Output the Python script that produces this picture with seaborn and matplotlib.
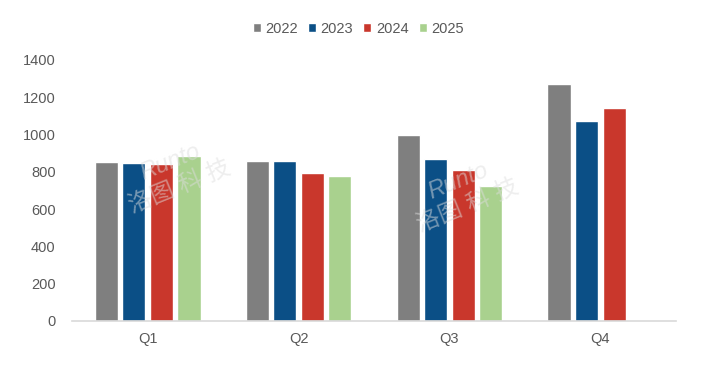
import numpy as np
import pandas as pd
import matplotlib
matplotlib.use("Agg")
import matplotlib.pyplot as plt
import seaborn as sns

quarters = ["Q1", "Q2", "Q3", "Q4"]
years = ["2022", "2023", "2024", "2025"]
v2022 = [852, 860, 995, 1271]
v2023 = [849, 858, 867, 1075]
v2024 = [843, 792, 812, 1143]
v2025 = [885, 778, 724, np.nan]

colors = ["#7f7f7f", "#0b4f86", "#c9372c", "#a9d18e"]

df = pd.DataFrame({
    "quarter": quarters * 4,
    "year": sum([[y] * 4 for y in years], []),
    "value": v2022 + v2023 + v2024 + v2025,
})

sns.set_theme(style="white")
plt.rcParams["font.family"] = ["Liberation Sans", "Noto Sans CJK SC", "DejaVu Sans"]

fig = plt.figure(figsize=(7.01, 3.88), dpi=100)
ax = fig.add_axes([0.103, 0.1727, 0.861, 0.6727])

sns.barplot(data=df, x="quarter", y="value", hue="year", palette=colors,
            width=0.73, gap=0.16, ax=ax, saturation=1, legend=True)

ax.set_xlim(-0.5, 3.5)
ax.set_ylim(0, 1400)
ax.set_yticks(range(0, 1401, 200))
ax.set_xlabel("")
ax.set_ylabel("")
for s in ["top", "right", "left"]:
    ax.spines[s].set_visible(False)
ax.spines["bottom"].set_color("#d9d9d9")
ax.spines["bottom"].set_linewidth(1.2)
ax.tick_params(axis="both", length=0, labelsize=10.5, labelcolor="#595959")
ax.tick_params(axis="y", pad=12)
ax.tick_params(axis="x", pad=8)
ax.grid(False)

leg = ax.legend(loc="center", bbox_to_anchor=(0.474, 1.12), ncol=4, frameon=False,
                fontsize=10.5, handlelength=0.55, handleheight=0.55, handletextpad=0.3,
                columnspacing=0.7)
for t in leg.get_texts():
    t.set_color("#595959")

for xf, yf in [(0.25, 0.55), (0.66, 0.5)]:
    fig.text(xf, yf, "Runto\n洛图 科 技", fontsize=17, color="#dddddd", alpha=0.5,
             rotation=22, ha="center", va="center", style="italic",
             family=["Liberation Sans", "Noto Sans CJK SC"])

fig.savefig("out.png", dpi=100)
